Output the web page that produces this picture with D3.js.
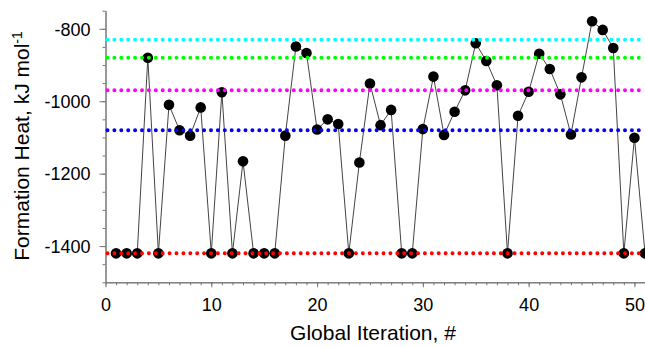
<!DOCTYPE html>
<html>
<head>
<meta charset="utf-8">
<script src="https://cdn.jsdelivr.net/npm/d3@7"></script>
<style>
  body { margin: 0; background: #fff; }
  text { font-family: "Liberation Sans", Arial, sans-serif; fill: #000; }
</style>
</head>
<body>
<svg width="645" height="347"></svg>
<script>
// iteration number and formation heat
const iterations = d3.range(1, 52);
const heats = [
  -1420, -1420, -1420, -880, -1420, -1010, -1080, -1095, -1017, -1420,
  -975, -1420, -1166, -1420, -1420, -1420, -1095, -849, -867, -1078,
  -1050, -1063, -1420, -1169, -951, -1066, -1024, -1420, -1420, -1077,
  -932, -1093, -1029, -970, -840, -889, -956, -1420, -1040, -974,
  -869, -911, -981, -1092, -934, -779, -803, -853, -1420, -1101,
  -1420
];
const refLevels = [-830, -880, -970, -1080, -1420];
const refColors = ["#00ffff", "#00ff00", "#ff00ff", "#0000ff", "#ff0000"];
const yTickLabels = [-1400, -1200, -1000, -800];
const xTickLabels = [0, 10, 20, 30, 40, 50];

const svg = d3.select("svg"),
    width = +svg.attr("width"),
    height = +svg.attr("height");

const x = d3.scaleLinear().domain([0, 51]).range([105.5, 645]);
const y = d3.scaleLinear().domain([-1500, -750]).range([282.3, 10.7]);

const axisColor = "#777";
const plain = d => String(d).replace("\u2212", "-");

// y axis
const yAxis = svg.append("g").attr("transform", "translate(105.5,0)");
yAxis.call(d3.axisLeft(y).tickValues(d3.range(-1500, -749, 50)).tickFormat("").tickSize(3).tickSizeOuter(0));
yAxis.append("g").call(d3.axisLeft(y).tickValues(yTickLabels).tickFormat(plain).tickSize(6).tickSizeOuter(0).tickPadding(9));
yAxis.selectAll("path, line").attr("stroke", axisColor);
yAxis.selectAll("text").style("font-size", "18px").attr("dy", "0.35em");

// x axis
const xAxis = svg.append("g").attr("transform", "translate(0,282.3)");
xAxis.call(d3.axisBottom(x).tickValues(d3.range(0, 52, 1)).tickFormat("").tickSize(3).tickSizeOuter(0));
xAxis.append("g").call(d3.axisBottom(x).tickValues(xTickLabels).tickFormat(plain).tickSize(5).tickSizeOuter(0).tickPadding(11));
xAxis.selectAll("path, line").attr("stroke", axisColor);
xAxis.selectAll("text").style("font-size", "18px");

// connecting line
svg.append("path")
    .datum(iterations.map((it, i) => [it, heats[i]]))
    .attr("fill", "none")
    .attr("stroke", "#444")
    .attr("stroke-width", 1)
    .attr("d", d3.line().x(d => x(d[0])).y(d => y(d[1])));

// markers
svg.append("g").selectAll("circle")
    .data(iterations.map((it, i) => [it, heats[i]]))
    .join("circle")
    .attr("cx", d => x(d[0]))
    .attr("cy", d => y(d[1]))
    .attr("r", 5.3)
    .attr("fill", "#000");

// dotted reference levels drawn over the markers
svg.append("g").selectAll("line")
    .data(refLevels)
    .join("line")
    .attr("x1", x(0) + 2)
    .attr("x2", width)
    .attr("y1", d => y(d))
    .attr("y2", d => y(d))
    .attr("stroke", (d, i) => refColors[i])
    .attr("stroke-width", 4)
    .attr("stroke-linecap", "round")
    .attr("stroke-dasharray", "0,6.9");

// axis titles
svg.append("text")
    .attr("x", 373)
    .attr("y", 340)
    .attr("text-anchor", "middle")
    .style("font-size", "21px")
    .text("Global Iteration, #");

const yt = svg.append("text")
    .attr("transform", "translate(29,146) rotate(-90)")
    .attr("text-anchor", "middle")
    .style("font-size", "21px");
yt.append("tspan").text("Formation Heat, kJ mol");
yt.append("tspan").attr("dy", "-0.5em").style("font-size", "14px").text("-1");
</script>
</body>
</html>
